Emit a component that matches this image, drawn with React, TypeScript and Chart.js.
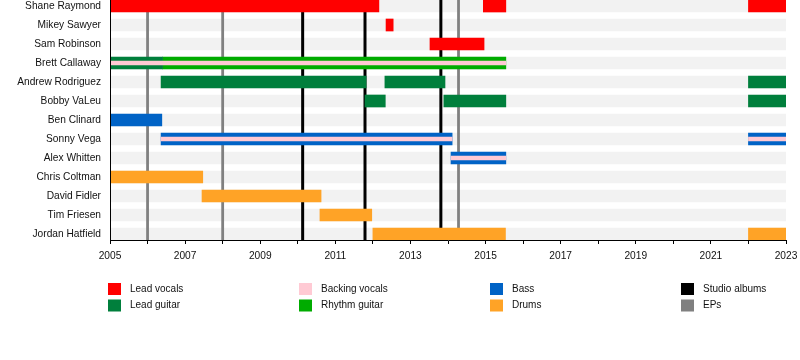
import React, { useEffect, useRef } from "react";
import { Chart, registerables } from "chart.js";

Chart.register(...registerables);

const members = [
  "Shane Raymond",
  "Mikey Sawyer",
  "Sam Robinson",
  "Brett Callaway",
  "Andrew Rodriguez",
  "Bobby VaLeu",
  "Ben Clinard",
  "Sonny Vega",
  "Alex Whitten",
  "Chris Coltman",
  "David Fidler",
  "Tim Friesen",
  "Jordan Hatfield",
];

type Span = [string, number, number];

const leadVocals: Span[] = [
  ["Shane Raymond", 2005, 2012.16],
  ["Shane Raymond", 2014.94, 2015.54],
  ["Shane Raymond", 2022.0, 2023],
  ["Mikey Sawyer", 2012.35, 2012.54],
  ["Sam Robinson", 2013.52, 2014.96],
];
const backingVocals: Span[] = [
  ["Brett Callaway", 2005, 2015.54],
  ["Sonny Vega", 2006.36, 2014.11],
  ["Sonny Vega", 2022.0, 2023],
  ["Alex Whitten", 2014.08, 2015.54],
];
const leadGuitar: Span[] = [
  ["Brett Callaway", 2005, 2006.4],
  ["Andrew Rodriguez", 2006.36, 2011.82],
  ["Andrew Rodriguez", 2012.32, 2013.92],
  ["Andrew Rodriguez", 2022.0, 2023],
  ["Bobby VaLeu", 2011.79, 2012.33],
  ["Bobby VaLeu", 2013.89, 2015.54],
  ["Bobby VaLeu", 2022.0, 2023],
];
const rhythmGuitar: Span[] = [["Brett Callaway", 2006.4, 2015.54]];
const bass: Span[] = [
  ["Ben Clinard", 2005, 2006.38],
  ["Sonny Vega", 2006.36, 2014.11],
  ["Sonny Vega", 2022.0, 2023],
  ["Alex Whitten", 2014.08, 2015.54],
];
const drums: Span[] = [
  ["Chris Coltman", 2005, 2007.47],
  ["David Fidler", 2007.45, 2010.62],
  ["Tim Friesen", 2010.59, 2011.97],
  ["Jordan Hatfield", 2012.0, 2015.53],
  ["Jordan Hatfield", 2022.0, 2023],
];

const studioAlbums = [2010.13, 2011.79, 2013.81];
const eps = [2006.0, 2008.0, 2014.28];

const yearStart = 2005;
const yearEnd = 2023;

const legendLabels = [
  "Lead vocals",
  "Lead guitar",
  "Backing vocals",
  "Rhythm guitar",
  "Bass",
  "Drums",
  "Studio albums",
  "EPs",
];

const COLORS: Record<string, string> = {
  "Lead vocals": "#ff0000",
  "Backing vocals": "#ffcad4",
  "Lead guitar": "#007f3c",
  "Rhythm guitar": "#00ac00",
  Bass: "#0063c6",
  Drums: "#ffa326",
  "Studio albums": "#000000",
  EPs: "#808080",
};

const FONT_FAMILY = '"Liberation Sans", Arial, Helvetica, sans-serif';
const TEXT = "#111111";

const toData = (spans: Span[]) =>
  spans.map(([name, a, b]) => ({ x: [a, b], y: members.indexOf(name) }));

const linesPlugin = {
  id: "albumLines",
  afterDatasetDraw(chart: any, args: any) {
    if (args.index !== 0) return;
    const { ctx, chartArea, scales } = chart;
    const x = scales.x;
    ctx.save();
    const draw = (vals: number[], color: string, w: number) => {
      ctx.strokeStyle = color;
      ctx.lineWidth = w;
      vals.forEach((v) => {
        const px = x.getPixelForValue(v);
        ctx.beginPath();
        ctx.moveTo(px, chartArea.top);
        ctx.lineTo(px, chartArea.bottom);
        ctx.stroke();
      });
    };
    draw(eps, COLORS["EPs"], 2.8);
    draw(studioAlbums, COLORS["Studio albums"], 3);
    ctx.restore();
  },
};

const legendPlugin = {
  id: "bandLegend",
  afterDraw(chart: any) {
    const { ctx } = chart;
    ctx.save();
    ctx.font = `10px ${FONT_FAMILY}`;
    ctx.textBaseline = "middle";
    ctx.textAlign = "left";
    legendLabels.forEach((label, i) => {
      const col = Math.floor(i / 2);
      const row = i % 2;
      const sx = 108 + col * 191;
      const cy = 289 + row * 16.5;
      ctx.fillStyle = COLORS[label];
      ctx.fillRect(sx, cy - 6, 13, 12);
      ctx.fillStyle = TEXT;
      ctx.fillText(label, sx + 22, cy);
    });
    ctx.restore();
  },
};

export default function App() {
  const ref = useRef<HTMLCanvasElement | null>(null);

  useEffect(() => {
    document.body.style.margin = "0";
    if (!ref.current) return;
    const mk = (label: string, spans: Span[], order: number, thick: number) => ({
      label,
      data: toData(spans) as any,
      backgroundColor: COLORS[label],
      borderWidth: 0,
      barThickness: thick,
      grouped: false,
      order,
    });
    const chart = new Chart(ref.current, {
      type: "bar",
      data: {
        datasets: [
          {
            label: "rows",
            data: members.map((_, i) => ({ x: [yearStart, yearEnd], y: i })) as any,
            backgroundColor: "#f2f2f2",
            borderWidth: 0,
            barThickness: 12,
            grouped: false,
            order: 10,
          },
          mk("Lead vocals", leadVocals, 5, 12),
          mk("Lead guitar", leadGuitar, 5, 12),
          mk("Rhythm guitar", rhythmGuitar, 5, 12),
          mk("Bass", bass, 5, 12),
          mk("Drums", drums, 5, 12),
          mk("Backing vocals", backingVocals, 1, 4),
        ] as any,
      },
      options: {
        indexAxis: "y",
        animation: false,
        responsive: false,
        events: [],
        layout: { padding: { top: 0, left: 0, right: 14, bottom: 0 }, autoPadding: false } as any,
        plugins: {
          legend: { display: false },
          tooltip: { enabled: false },
        },
        scales: {
          x: {
            type: "linear",
            min: yearStart,
            max: yearEnd,
            offset: false,
            z: 1,
            ticks: {
              stepSize: 1,
              autoSkip: false,
              maxRotation: 0,
              padding: 6,
              color: TEXT,
              font: { family: FONT_FAMILY, size: 10.2 },
              callback: (v: any) => ((Number(v) - yearStart) % 2 === 0 ? String(v) : ""),
            },
            grid: { drawOnChartArea: false, drawTicks: true, tickLength: 4, color: "#000", offset: false },
            border: { display: true, color: "#000", width: 1, z: 2 },
            afterFit: (s: any) => {
              s.height = 120;
              s.paddingLeft = 0;
              s.paddingRight = 0;
            },
          },
          y: {
            type: "linear",
            reverse: true,
            offset: false,
            z: 1,
            min: -6 / 19,
            max: 12 + 6 / 19,
            afterBuildTicks: (s: any) => {
              s.ticks = members.map((_, i) => ({ value: i }));
            },
            ticks: {
              padding: 9,
              color: TEXT,
              font: { family: FONT_FAMILY, size: 10.2 },
              callback: (v: any) => members[Number(v)] ?? "",
            },
            grid: { display: false, drawTicks: false, offset: false },
            border: { display: true, color: "#000", width: 1, z: 2 },
            afterFit: (s: any) => {
              s.width = 110;
              s.paddingTop = 0;
              s.paddingBottom = 0;
            },
          },
        },
      } as any,
      plugins: [linesPlugin, legendPlugin],
    });
    return () => chart.destroy();
  }, []);

  return (
    <div style={{ width: 800, height: 360 }}>
      <canvas ref={ref} width={800} height={360} style={{ display: "block" }} />
    </div>
  );
}
